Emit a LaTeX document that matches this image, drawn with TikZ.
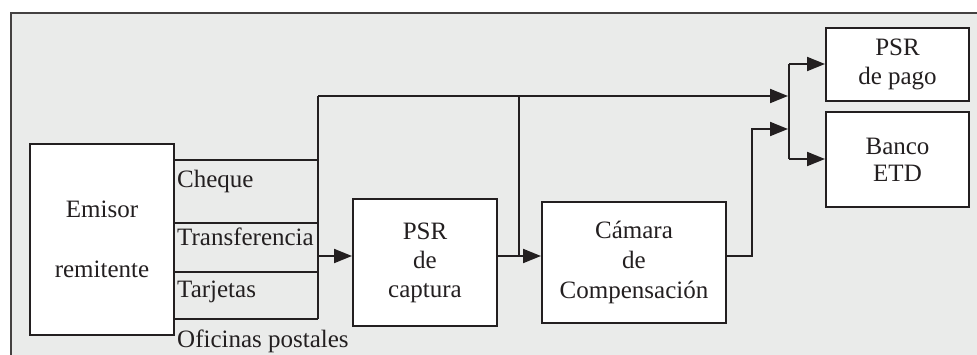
\documentclass[tikz,border=0pt]{standalone}
\usepackage{fontspec}
\setmainfont{Liberation Serif}
\usetikzlibrary{arrows.meta}
\definecolor{bgfill}{HTML}{EAEBEA}
\definecolor{ink}{HTML}{231F20}
\begin{document}
\begin{tikzpicture}[x=1pt,y=-1pt,
  box/.style={draw=ink,fill=white,line width=2pt,inner sep=0pt,align=center,
    font=\fontsize{25}{29}\selectfont,text=ink},
  lbl/.style={anchor=base west,inner sep=0pt,font=\fontsize{25}{29}\selectfont,text=ink},
  wire/.style={draw=ink,line width=2pt},
  arr/.style={wire,-{Triangle[length=18pt,width=14pt]}}]
\useasboundingbox (0,0) rectangle (977,354);
\clip (0,0) rectangle (977,354);
\draw[draw=ink!85,fill=bgfill,line width=1.6pt] (11,13) rectangle (1000,380);

% boxes
\node[box,minimum width=144pt,minimum height=191pt] (emisor) at (102,239.5) {Emisor\\[31pt]remitente};
\node[box,minimum width=144pt,minimum height=127pt] (captura) at (425,262.5) {PSR\\de\\captura};
\node[box,minimum width=184pt,minimum height=121pt,font=\fontsize{25}{30}\selectfont] (camara) at (634,262.5) {Cámara\\de\\Compensación};
\node[box,minimum width=143pt,minimum height=73pt] (pago) at (897.5,64.5) {PSR\\de pago};
\node[box,minimum width=143pt,minimum height=95pt,font=\fontsize{25}{27}\selectfont] (banco) at (897.5,159.5) {Banco\\ETD};

% bus coordinates
\coordinate (b1) at (318,160);
\coordinate (b2) at (318,223);
\coordinate (b3) at (318,272);
\coordinate (b4) at (318,319);
\coordinate (btop) at (318,96);
\coordinate (bmid) at (318,256);
\coordinate (j1) at (519,96);
\coordinate (j2) at (519,256);
\coordinate (t1) at (788,96);
\coordinate (c1) at (752,256);
\coordinate (c2) at (752,129);
\coordinate (t2) at (788,129);
\coordinate (s1) at (789,64);
\coordinate (s2) at (789,159);

% channel lines
\draw[wire] (emisor.east |- b1) -- (b1);
\draw[wire] (emisor.east |- b2) -- (b2);
\draw[wire] (emisor.east |- b3) -- (b3);
\draw[wire] (emisor.east |- b4) -- (b4);
\draw[wire] (b4) -- (btop);

\node[lbl] (lcheque) at (177,187) {Cheque};
\node[lbl] (ltrans) at (177,245) {Transferencia};
\node[lbl] (ltarj) at (177,297) {Tarjetas};
\node[lbl] (lofic) at (177,347) {Oficinas postales};

% flows
\draw[arr] (bmid) -- (captura.west |- bmid);
\draw[arr] (captura.east |- j2) -- (camara.west |- j2);
\draw[wire] (j1) -- (j2);
\draw[arr] (btop) -- (t1);
\draw[arr] (camara.east |- c1) -- (c1) -- (c2) -- (t2);
\draw[wire] (s1) -- (s2);
\draw[arr] (s1) -- (pago.west |- s1);
\draw[arr] (s2) -- (banco.west |- s2);
\end{tikzpicture}
\end{document}
